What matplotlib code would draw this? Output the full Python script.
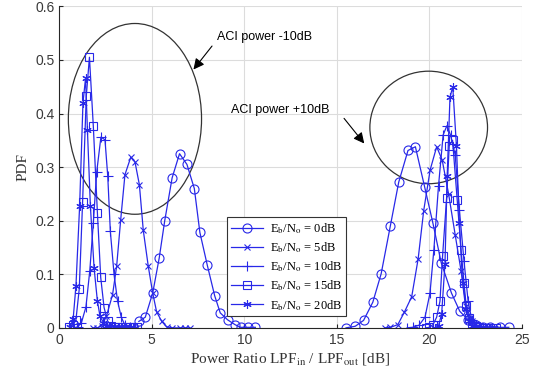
import numpy as np
import matplotlib.pyplot as plt
from matplotlib.patches import Ellipse

plt.rcParams['mathtext.fontset'] = 'stix'

# Eb/No = 0dB (circles)
x0_l = [4.3, 4.65, 5.05, 5.4, 5.7, 6.1, 6.5, 6.9, 7.3, 7.6, 8.0, 8.4, 8.7, 9.1, 9.5, 9.8, 10.2, 10.6]
y0_l = [0.012, 0.02, 0.065, 0.13, 0.2, 0.28, 0.325, 0.305, 0.26, 0.178, 0.117, 0.06, 0.028, 0.015, 0.006, 0.001, 0.001, 0.001]
x0_r = [15.5, 16.0, 16.45, 16.95, 17.4, 17.9, 18.35, 18.85, 19.25, 19.75, 20.2, 20.65, 21.2, 21.65, 22.1, 22.5, 22.9, 23.3, 23.8, 24.3]
y0_r = [0.0, 0.003, 0.014, 0.048, 0.101, 0.191, 0.272, 0.331, 0.338, 0.263, 0.195, 0.121, 0.065, 0.031, 0.015, 0.006, 0.002, 0.001, 0.001, 0.001]

# Eb/No = 5dB (x)
x5_l = [1.8, 2.05, 2.3, 2.55, 2.88, 3.1, 3.32, 3.55, 3.86, 4.09, 4.33, 4.54, 4.81, 5.05, 5.26, 5.54, 5.8, 6.1, 6.5, 6.8, 7.05]
y5_l = [0.0, 0.0, 0.004, 0.022, 0.062, 0.115, 0.202, 0.286, 0.318, 0.31, 0.267, 0.182, 0.115, 0.065, 0.03, 0.012, 0.002, 0.0, 0.0, 0.0, 0.0]
x5_r = [17.6, 17.9, 18.3, 18.65, 19.05, 19.4, 19.7, 20.05, 20.4, 20.7, 21.05, 21.4, 21.72, 22.0, 22.3, 22.6, 22.9, 23.2, 23.5]
y5_r = [0.0, 0.001, 0.006, 0.029, 0.058, 0.129, 0.219, 0.295, 0.338, 0.313, 0.249, 0.174, 0.106, 0.04, 0.012, 0.003, 0.001, 0.0, 0.0]

# Eb/No = 10dB (+)
x10_l = [0.8, 1.0, 1.2, 1.44, 1.65, 1.84, 2.02, 2.25, 2.47, 2.62, 2.76, 2.96, 3.15, 3.35, 3.55, 3.8, 4.0]
y10_l = [0.0, 0.002, 0.01, 0.039, 0.107, 0.196, 0.29, 0.356, 0.351, 0.283, 0.18, 0.1, 0.05, 0.02, 0.005, 0.001, 0.0]
x10_r = [18.8, 19.1, 19.45, 19.77, 20.04, 20.25, 20.5, 20.75, 20.95, 21.15, 21.4, 21.63, 21.88, 22.1, 22.3, 22.5, 22.8]
y10_r = [0.0, 0.001, 0.005, 0.02, 0.065, 0.146, 0.265, 0.36, 0.377, 0.36, 0.323, 0.22, 0.124, 0.05, 0.015, 0.004, 0.0]

# Eb/No = 15dB (squares)
x15_l = [0.55, 0.75, 0.9, 1.08, 1.26, 1.46, 1.63, 1.84, 2.06, 2.24, 2.42, 2.61, 2.8, 3.0, 3.2, 3.4, 3.6, 3.8, 4.0, 4.2]
y15_l = [0.002, 0.006, 0.015, 0.073, 0.235, 0.433, 0.505, 0.376, 0.215, 0.094, 0.038, 0.013, 0.004, 0.002, 0.001, 0.002, 0.001, 0.002, 0.001, 0.001]
x15_r = [19.8, 20.0, 20.2, 20.4, 20.58, 20.72, 20.94, 21.08, 21.26, 21.51, 21.72, 21.88, 22.0, 22.15, 22.3, 22.5, 22.7, 23.0, 23.3, 23.6]
y15_r = [0.0, 0.001, 0.006, 0.02, 0.05, 0.134, 0.243, 0.34, 0.35, 0.239, 0.145, 0.083, 0.04, 0.018, 0.008, 0.003, 0.001, 0.0, 0.0, 0.0]

# Eb/No = 20dB (*)
x20_l = [0.6, 0.75, 0.9, 1.1, 1.28, 1.42, 1.52, 1.68, 1.88, 2.06, 2.2, 2.38, 2.55, 2.75, 2.95, 3.15, 3.35, 3.6, 3.85, 4.1]
y20_l = [0.002, 0.017, 0.078, 0.228, 0.42, 0.466, 0.37, 0.228, 0.112, 0.05, 0.022, 0.01, 0.004, 0.002, 0.001, 0.001, 0.0, 0.001, 0.0, 0.0]
x20_r = [20.3, 20.5, 20.67, 20.85, 20.97, 21.12, 21.27, 21.47, 21.63, 21.8, 21.98, 22.15, 22.3, 22.5, 22.7, 22.9, 23.1, 23.3, 23.5]
y20_r = [0.0, 0.004, 0.026, 0.12, 0.284, 0.43, 0.45, 0.339, 0.195, 0.084, 0.035, 0.012, 0.004, 0.001, 0.0, 0.0, 0.0, 0.0, 0.0]

labels = [r'E$_\mathrm{b}$/N$_\mathrm{o}$ = 0dB', r'E$_\mathrm{b}$/N$_\mathrm{o}$ = 5dB',
          r'E$_\mathrm{b}$/N$_\mathrm{o}$ = 10dB', r'E$_\mathrm{b}$/N$_\mathrm{o}$ = 15dB',
          r'E$_\mathrm{b}$/N$_\mathrm{o}$ = 20dB']
# matlab style asterisk for the last one
markers = ['o', 'x', '+', 's', (6, 2, 0)]
series = [(x0_l, y0_l, x0_r, y0_r), (x5_l, y5_l, x5_r, y5_r), (x10_l, y10_l, x10_r, y10_r),
          (x15_l, y15_l, x15_r, y15_r), (x20_l, y20_l, x20_r, y20_r)]
msizes = [6.5, 5, 7, 5.5, 6]

blue = '#2828e8'

fig = plt.figure(figsize=(5.39, 3.73), dpi=100)
ax = fig.add_axes([0.110, 0.121, 0.858, 0.862])

for (xl, yl, xr, yr), m, lab, ms in zip(series, markers, labels, msizes):
    ax.plot(xl, yl, color=blue, lw=0.9, marker=m, ms=ms, mfc='none', mew=0.8, label=lab)
    ax.plot(xr, yr, color=blue, lw=0.9, marker=m, ms=ms, mfc='none', mew=0.8)

ax.set_xlim(0, 25)
ax.set_ylim(0, 0.6)
ax.set_xticks([0, 5, 10, 15, 20, 25])
ax.set_yticks([0, 0.1, 0.2, 0.3, 0.4, 0.5, 0.6])
ax.set_yticklabels(['0', '0.1', '0.2', '0.3', '0.4', '0.5', '0.6'])
ax.grid(True, color='#dcdcdc', lw=0.8)
ax.set_axisbelow(True)
for s in ['top', 'right']:
    ax.spines[s].set_visible(False)
for s in ['left', 'bottom']:
    ax.spines[s].set_color('#262626')
ax.tick_params(direction='in', length=3, labelsize=10, colors='#262626',
               labelcolor='#3a3a3a')
for t in ax.get_xticklabels() + ax.get_yticklabels():
    t.set_family('Liberation Sans')

ax.set_xlabel(r'Power Ratio LPF$_\mathrm{in}$ / LPF$_\mathrm{out}$ [dB]',
              family='Liberation Serif', fontsize=11, color='#333333', labelpad=3)
ax.set_ylabel('PDF', family='Liberation Serif', fontsize=11, color='#333333', labelpad=4)

ax.add_patch(Ellipse((4.09, 0.39), 7.2, 0.356, fill=False, ec='#333333', lw=0.9))
ax.add_patch(Ellipse((19.97, 0.374), 6.36, 0.21, fill=False, ec='#333333', lw=0.9))

ax.annotate('', xy=(7.16, 0.478), xytext=(8.35, 0.53),
            arrowprops=dict(arrowstyle='-|>', color='black', lw=0.8, mutation_scale=16))
ax.text(8.55, 0.543, 'ACI power -10dB', family='Liberation Sans', fontsize=9, va='center')
ax.annotate('', xy=(16.58, 0.34), xytext=(15.3, 0.395),
            arrowprops=dict(arrowstyle='-|>', color='black', lw=0.8, mutation_scale=16))
ax.text(9.3, 0.407, 'ACI power +10dB', family='Liberation Sans', fontsize=9, va='center')

leg = ax.legend(loc='lower left', bbox_to_anchor=(0.363, 0.036), prop={'family': 'Liberation Serif', 'size': 9},
                handlelength=2.6, fancybox=False, framealpha=1, edgecolor='#333333',
                borderpad=0.3, labelspacing=0.35, handletextpad=0.5, borderaxespad=0)
leg.get_frame().set_linewidth(0.8)

fig.savefig('out.png', dpi=100)
